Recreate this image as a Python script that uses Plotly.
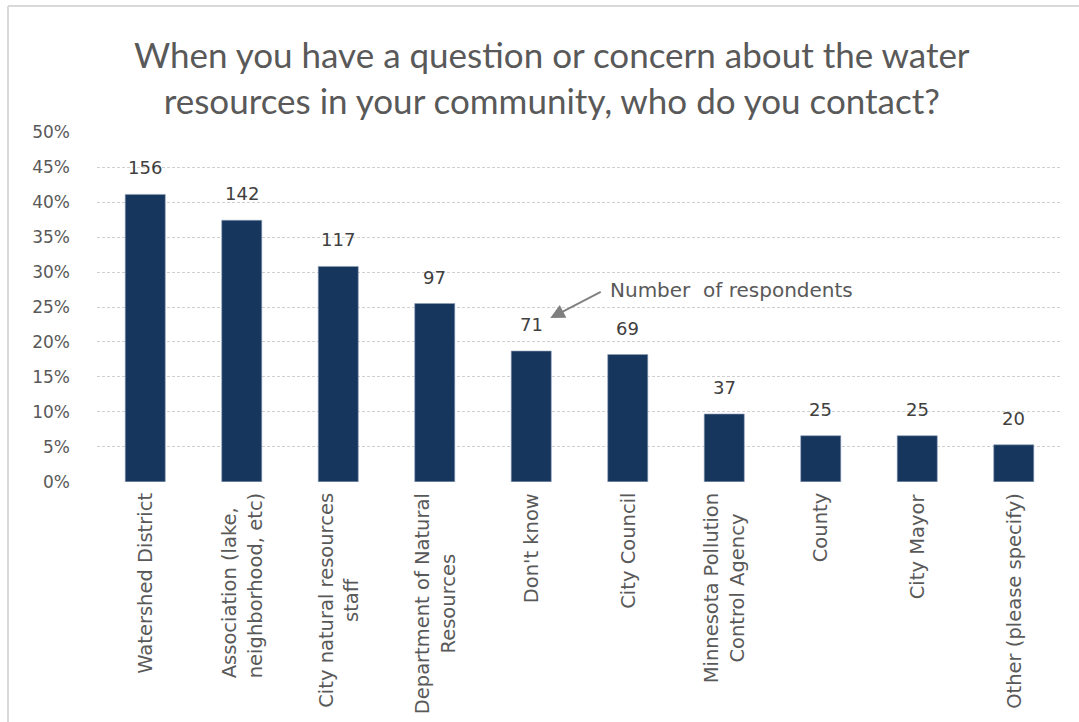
import plotly.graph_objects as go

# Survey: who respondents contact about local water resources
categories = [
    "Watershed District",
    "Association (lake,<br>neighborhood, etc)",
    "City natural resources<br>staff",
    "Department of Natural<br>Resources",
    "Don't know",
    "City Council",
    "Minnesota Pollution<br>Control Agency",
    "County",
    "City Mayor",
    "Other (please specify)",
]
label_align = ["center", "left", "center", "center", "center",
               "center", "center", "center", "center", "center"]
share_pct = [41.1, 37.4, 30.8, 25.5, 18.7, 18.2, 9.7, 6.6, 6.6, 5.3]
respondents = [156, 142, 117, 97, 71, 69, 37, 25, 25, 20]
y_ticks = list(range(0, 55, 5))
y_tick_labels = [f"{t}%" for t in y_ticks]

W, H = 1079, 722
ML, MR, MT, MB = 97, 17, 132, 240
PW, PH = W - ML - MR, H - MT - MB

BAR = "#17365d"
TXT = "#595959"
SANS = "DejaVu Sans, Verdana, sans-serif"


def px_y(py):
    """Convert a pixel row of the figure to paper y."""
    return (H - MB - py) / PH


def px_x(px):
    """Convert a pixel column of the figure to paper x."""
    return (px - ML) / PW


fig = go.Figure(
    go.Bar(
        x=list(range(len(categories))),
        y=share_pct,
        width=0.415,
        marker=dict(color=BAR, line=dict(color="#8da0b8", width=0.6)),
        hovertemplate="%{y}%<extra></extra>",
    )
)

annotations = [
    dict(
        x=px_x(552), y=px_y(77), xref="paper", yref="paper",
        text="When you have a question or concern about the water<br>resources in your community, who do you contact?",
        showarrow=False, xanchor="center", yanchor="middle",
        font=dict(family="Lato, Open Sans, sans-serif", size=35, color=TXT),
    )
]

# category names, rotated, hanging under the axis
for i, (name, al) in enumerate(zip(categories, label_align)):
    annotations.append(
        dict(
            x=i, y=0, xref="x", yref="paper", text=name, showarrow=False,
            textangle=-90, align=al, xanchor="center", yanchor="top", yshift=-9,
            font=dict(family=SANS, size=19.5, color=TXT),
        )
    )

# respondent counts above each bar
for i, (v, n) in enumerate(zip(share_pct, respondents)):
    annotations.append(
        dict(
            x=i, y=v, xref="x", yref="y", text=str(n), showarrow=False,
            yanchor="bottom", yshift=14, font=dict(family=SANS, size=18, color="#404040"),
        )
    )

# callout explaining the numbers
annotations.append(
    dict(
        x=4, y=share_pct[4], xref="x", yref="y", xshift=19, yshift=33,
        ax=52, ay=-27, axref="pixel", ayref="pixel",
        text="", showarrow=True, arrowhead=2, arrowsize=1.6, arrowwidth=1.8,
        arrowcolor="#7f7f7f",
    )
)
annotations.append(
    dict(
        x=px_x(608), y=px_y(290), xref="paper", yref="paper",
        text="Number  of respondents", showarrow=False, xanchor="left", yanchor="middle",
        font=dict(family=SANS, size=20, color=TXT),
    )
)

fig.update_layout(
    width=W, height=H,
    margin=dict(l=ML, r=MR, t=MT, b=MB),
    paper_bgcolor="white", plot_bgcolor="white",
    showlegend=False,
    annotations=annotations,
    shapes=[
        dict(type="line", xref="paper", yref="paper",
             x0=px_x(8), x1=px_x(W), y0=px_y(6), y1=px_y(6),
             line=dict(color="#d9d9d9", width=2)),
        dict(type="line", xref="paper", yref="paper",
             x0=px_x(8), x1=px_x(8), y0=px_y(6), y1=px_y(H),
             line=dict(color="#d9d9d9", width=2)),
    ],
)

fig.update_xaxes(
    range=[-0.5, len(categories) - 0.5],
    tickmode="array", tickvals=list(range(len(categories))), ticktext=[""] * len(categories),
    showgrid=False, zeroline=False, showline=False, ticks="",
)
fig.update_yaxes(
    range=[-0.02, 50.02], tickmode="array", tickvals=y_ticks, ticktext=y_tick_labels,
    tickfont=dict(family=SANS, size=17, color=TXT),
    showgrid=True, gridcolor="#d0d0d0", griddash="3px,2px",
    gridwidth=1, zeroline=False, showline=False, ticks="", ticklabelstandoff=26,
)

fig.write_html("out.html")
